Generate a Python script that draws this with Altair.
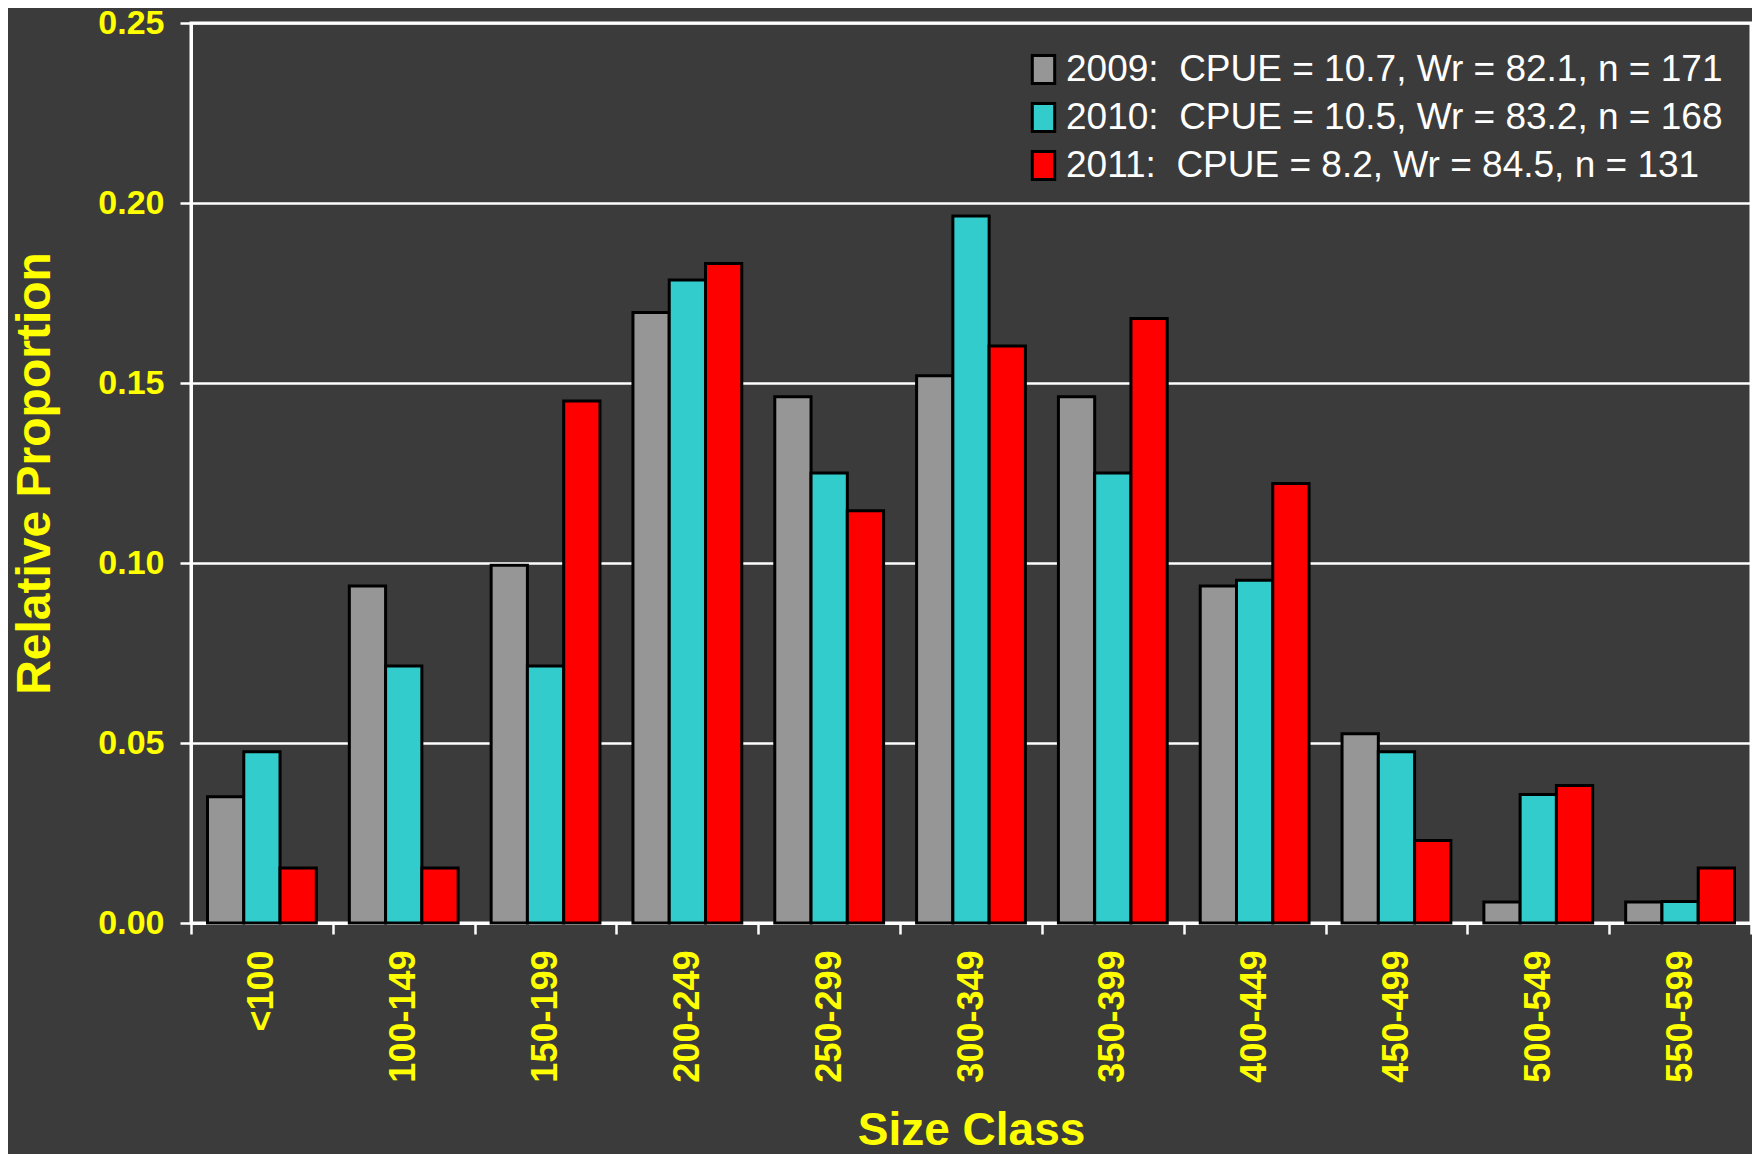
import altair as alt
import pandas as pd

size_classes = ["<100", "100-149", "150-199", "200-249", "250-299", "300-349",
                "350-399", "400-449", "450-499", "500-549", "550-599"]
series_labels = [
    "2009:\u00a0 CPUE = 10.7, Wr = 82.1, n = 171",
    "2010:\u00a0 CPUE = 10.5, Wr = 83.2, n = 168",
    "2011:\u00a0 CPUE = 8.2, Wr = 84.5, n = 131",
]
colors = ["#969696", "#33CCCC", "#FF0000"]
p2009 = [0.0351, 0.0936, 0.0994, 0.1696, 0.1462, 0.1520, 0.1462, 0.0936, 0.0526, 0.0058, 0.0058]
p2010 = [0.0476, 0.0714, 0.0714, 0.1786, 0.1250, 0.1964, 0.1250, 0.0952, 0.0476, 0.0357, 0.0060]
p2011 = [0.0153, 0.0153, 0.1450, 0.1832, 0.1145, 0.1603, 0.1679, 0.1221, 0.0229, 0.0382, 0.0153]
y_ticks = [0.0, 0.05, 0.10, 0.15, 0.20, 0.25]

rows = []
for lab, vals in zip(series_labels, [p2009, p2010, p2011]):
    for sc, v in zip(size_classes, vals):
        rows.append({"size": sc, "series": lab, "value": v})
df = pd.DataFrame(rows)

YELLOW = "#FFFF00"
FONT = "Liberation Sans"

chart = alt.Chart(df).mark_bar(stroke="black", strokeWidth=3, opacity=1).encode(
    x=alt.X("size:N", sort=size_classes,
            scale=alt.Scale(paddingInner=0, paddingOuter=0),
            axis=alt.Axis(title="Size Class", labelAngle=270, tickBand="extent",
                          labelFontSize=36, labelPadding=16, tickSize=11, tickWidth=2.5,
                          domainWidth=3, grid=False, labelOverlap=False, labelLimit=400,
                          titleFontSize=46, titlePadding=26)),
    xOffset=alt.XOffset("series:N", sort=series_labels,
                        scale=alt.Scale(paddingInner=0, paddingOuter=0.455)),
    y=alt.Y("value:Q", scale=alt.Scale(domain=[0, 0.25], nice=False),
            axis=alt.Axis(title="Relative Proportion", values=y_ticks, format=".2f",
                          labelFontSize=34, labelPadding=16, tickSize=11, tickWidth=2.5,
                          domainWidth=3, grid=True, gridColor="white", gridWidth=2.5,
                          gridOpacity=1, titleFontSize=48, titlePadding=38)),
    color=alt.Color("series:N", sort=series_labels,
                    scale=alt.Scale(domain=series_labels, range=colors),
                    legend=alt.Legend(title=None, orient="none", legendX=834, legendY=28,
                                      labelFontSize=37, labelColor="white", labelFont=FONT,
                                      labelFontWeight="normal", labelLimit=1000,
                                      symbolType="M-0.8,-1H0.8V1H-0.8Z", symbolSize=784,
                                      symbolStrokeColor="black", symbolStrokeWidth=3,
                                      symbolOpacity=1, rowPadding=7, labelOffset=4,
                                      padding=0)),
).properties(
    width=1560, height=900, background="#3b3b3b",
    padding={"left": 183, "top": 15, "right": 1, "bottom": 231},
    autosize=alt.AutoSizeParams(type="none"),
).configure_view(
    stroke="white", strokeWidth=3
).configure_axis(
    labelColor=YELLOW, labelFont=FONT, labelFontWeight="bold",
    titleColor=YELLOW, titleFont=FONT, titleFontWeight="bold",
    domainColor="white", tickColor="white",
)

chart.save("out.html", embed_options={"renderer": "svg", "actions": False})
